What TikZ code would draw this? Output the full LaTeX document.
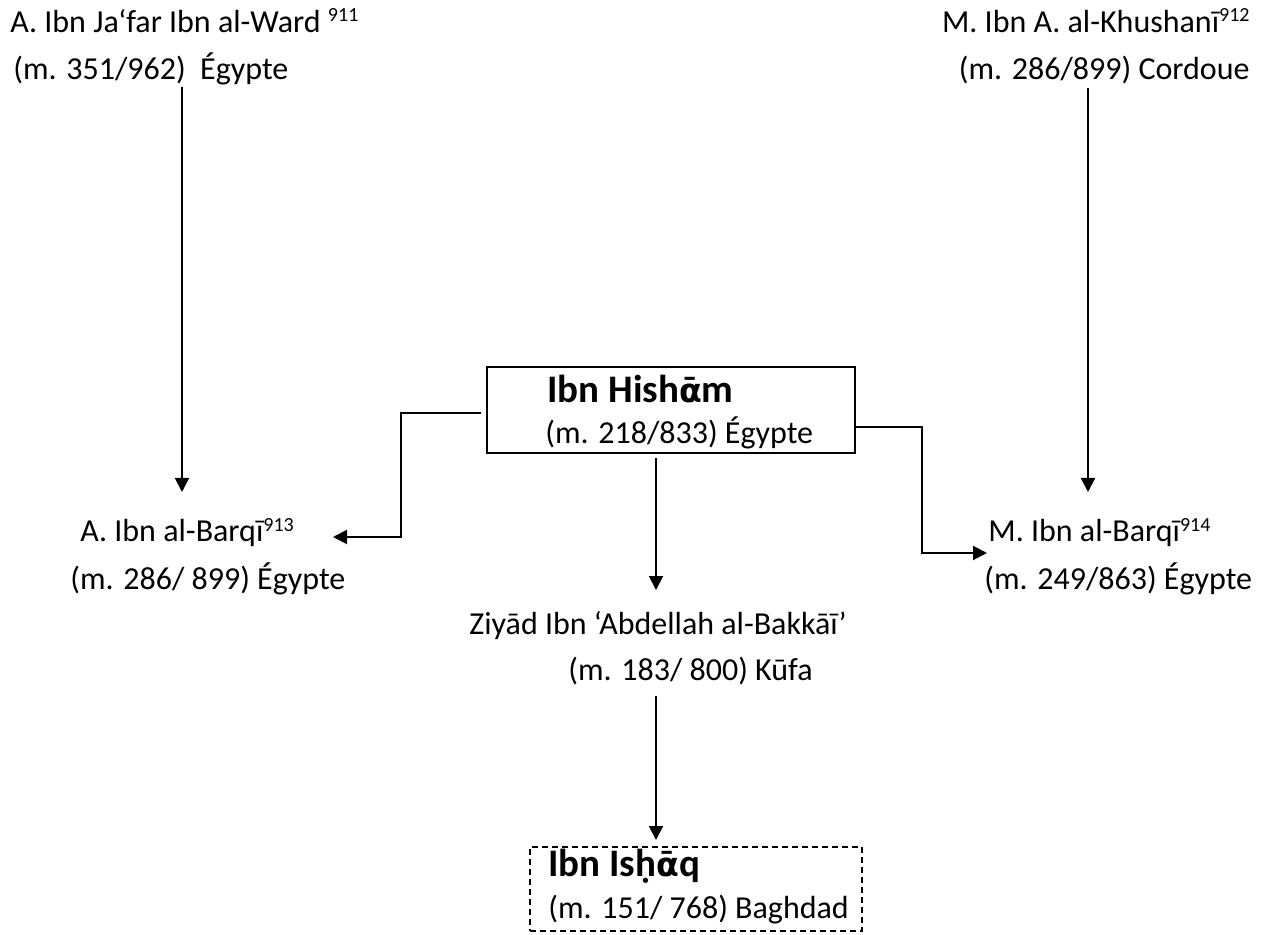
\documentclass[tikz,border=0pt]{standalone}
\usepackage{fontspec}
\setmainfont{Carlito}
\newfontfamily\dvs[Scale=0.85]{DejaVu Sans}
\usetikzlibrary{arrows.meta}
\newcommand{\supr}[1]{\raisebox{5.5pt}{\fontsize{10pt}{12pt}\selectfont #1}}
\begin{document}
\begin{tikzpicture}[x=0.5pt,y=-0.5pt,
  txt/.style={inner sep=0pt, font=\fontsize{16pt}{20pt}\selectfont},
  ttl/.style={inner sep=0pt, font=\fontsize{19.5pt}{22pt}\selectfont\bfseries},
  conn/.style={line width=1pt, -{Triangle[length=7pt,width=7pt]}},
  boxed/.style={draw, line width=1pt, inner sep=0pt, anchor=north west}]
\useasboundingbox (0,0) rectangle (1264,935);

% top labels
\node[txt, anchor=base west] (tl1) at (10,33) {A. Ibn Ja‘far Ibn al-Ward \supr{911}};
\node[txt, anchor=base west] (tl2) at (13,80) {(m. 351/962)\ \ Égypte};
\node[txt, anchor=base east] (tr1) at (1250,33) {M. Ibn A. al-Khushanī\supr{912}};
\node[txt, anchor=base east] (tr2) at (1250,80) {(m. 286/899) Cordoue};

% Ibn Hisham box
\node[boxed, minimum width=184pt, minimum height=43pt] (hisham) at (486,366) {};
\node[ttl, anchor=base west] (hishamA) at (547,403) {Ibn Hish{\dvs ᾱ}m};
\node[txt, anchor=base west] (hishamB) at (545,444) {(m. 218/833) Égypte};

% middle labels
\node[txt, anchor=base west] (lb1) at (80,542) {A. Ibn al-Barqī\supr{913}};
\node[txt, anchor=base west] (lb2) at (70,589) {(m. 286/ 899) Égypte};
\node[txt, anchor=base west] (rb1) at (988,542) {M. Ibn al-Barqī\supr{914}};
\node[txt, anchor=base west] (rb2) at (984,589) {(m. 249/863) Égypte};

% Ziyad
\node[txt, anchor=base west] (z1) at (469,634) {Ziyād Ibn ‘Abdellah al-Bakkāī’};
\node[txt, anchor=base west] (z2) at (568,680) {(m. 183/ 800) Kūfa};

% Ibn Ishaq dashed box
\node[boxed, dash pattern=on 3pt off 2pt, minimum width=166pt, minimum height=42pt] (ishaq) at (529,846) {};
\node[ttl, anchor=base west] (ishaqA) at (548,876) {Ibn Isḥ{\dvs ᾱ}q};
\node[txt, anchor=base west] (ishaqB) at (548,918) {(m. 151/ 768) Baghdad};

% connector ends
\coordinate (tlS) at (182,87);
\coordinate (lbN) at (182,492);
\coordinate (trS) at (1088,88);
\coordinate (rbN) at (1088,492);
\coordinate (hL) at (481,413);
\coordinate (hLk) at (401,413);
\coordinate (lbE) at (333,537);
\coordinate (hR) at (855,427);
\coordinate (hRk) at (922,427);
\coordinate (rbW) at (987,553);
\coordinate (hS) at (656,458);
\coordinate (zN) at (656,590);
\coordinate (zS) at (656,696);
\coordinate (iN) at (656,840);

\draw[conn] (tlS) -- (lbN);
\draw[conn] (trS) -- (rbN);
\draw[conn] (hL) -- (hLk) |- (lbE);
\draw[conn] (hR) -- (hRk) |- (rbW);
\draw[conn] (hS) -- (zN);
\draw[conn] (zS) -- (iN);
\end{tikzpicture}
\end{document}
